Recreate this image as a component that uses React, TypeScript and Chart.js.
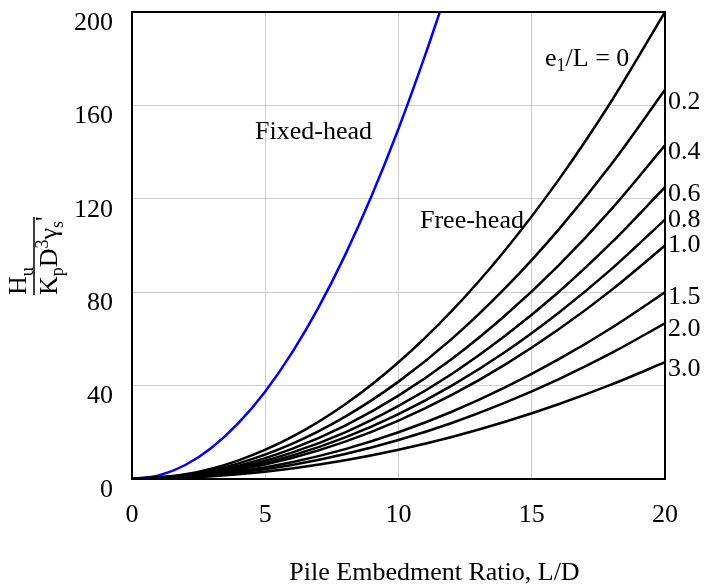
import React, { useEffect, useRef } from "react";
import { Chart, registerables } from "chart.js";

Chart.register(...registerables);

// ---- Data ----
const xFree = [0, 2, 4, 6, 8, 10, 12, 14, 16, 18, 20];
const freeE0 = [0, 2, 8, 18, 32, 50, 72, 98, 128, 162, 200];
const freeE02 = [0, 1.7, 6.7, 15, 26.7, 41.7, 60, 81.7, 106.7, 135, 166.7];
const freeE04 = [0, 1.4, 5.7, 12.9, 22.9, 35.7, 51.4, 70, 91.4, 115.7, 142.9];
const freeE06 = [0, 1.3, 5, 11.3, 20, 31.3, 45, 61.3, 80, 101.3, 125];
const freeE08 = [0, 1.1, 4.4, 10, 17.8, 27.8, 40, 54.4, 71.1, 90, 111.1];
const freeE10 = [0, 1, 4, 9, 16, 25, 36, 49, 64, 81, 100];
const freeE15 = [0, 0.8, 3.2, 7.2, 12.8, 20, 28.8, 39.2, 51.2, 64.8, 80];
const freeE20 = [0, 0.7, 2.7, 6, 10.7, 16.7, 24, 32.7, 42.7, 54, 66.7];
const freeE30 = [0, 0.5, 2, 4.5, 8, 12.5, 18, 24.5, 32, 40.5, 50];
const freeSeries = [freeE0, freeE02, freeE04, freeE06, freeE08, freeE10, freeE15, freeE20, freeE30];
const freeLabels = ["0", "0.2", "0.4", "0.6", "0.8", "1.0", "1.5", "2.0", "3.0"];

const xFixed = [0, 1, 2, 3, 4, 5, 6, 7, 8, 9, 10, 11, 11.55];
const fixedHead = [0, 1.5, 6, 13.5, 24, 37.5, 54, 73.5, 96, 121.5, 150, 181.5, 200];

const xTicks = [0, 5, 10, 15, 20];
const yTicks = [0, 40, 80, 120, 160, 200];

const xTitle = "Pile Embedment Ratio, L/D";
const fixedLabel = "Fixed-head";
const freeLabel = "Free-head";

const SERIF = "'Liberation Serif', 'Times New Roman', serif";

const textPlugin = {
  id: "textPlugin",
  afterDraw(chart: any) {
    const { ctx, chartArea, scales } = chart;
    const xs = scales.x;
    const ys = scales.y;
    ctx.save();
    // frame
    ctx.strokeStyle = "#000";
    ctx.lineWidth = 2;
    ctx.strokeRect(chartArea.left, chartArea.top, chartArea.right - chartArea.left, chartArea.bottom - chartArea.top);

    ctx.fillStyle = "#000";
    ctx.textBaseline = "alphabetic";
    ctx.textAlign = "left";
    const big = `26px ${SERIF}`;
    const small = `18px ${SERIF}`;

    // in-plot labels
    ctx.font = big;
    ctx.fillText(fixedLabel, 255, 139);
    ctx.fillText(freeLabel, 420, 228);

    // e1/L = 0
    let x = 545;
    const b = 66;
    ctx.font = big;
    ctx.fillText("e", x, b);
    x += ctx.measureText("e").width;
    ctx.font = small;
    ctx.fillText("1", x, b + 5);
    x += ctx.measureText("1").width;
    ctx.font = big;
    ctx.fillText("/L = " + freeLabels[0], x, b);

    // right-side labels
    const offs = [0, 12, 7, 7, 1, 0, 5, 6, 7];
    ctx.textBaseline = "middle";
    ctx.font = big;
    for (let i = 1; i < freeSeries.length; i++) {
      const s = freeSeries[i];
      const py = ys.getPixelForValue(s[s.length - 1]) + offs[i];
      ctx.fillText(freeLabels[i], xs.getPixelForValue(20) + 3, py);
    }

    // x title
    ctx.textAlign = "center";
    ctx.fillText(xTitle, 434.5, 573);

    // y title (rotated fraction)
    ctx.translate(34, 295);
    ctx.rotate(-Math.PI / 2);
    ctx.textAlign = "left";
    ctx.textBaseline = "alphabetic";
    ctx.font = big;
    ctx.fillText("H", 0, -8);
    let w = ctx.measureText("H").width;
    ctx.font = small;
    ctx.fillText("u", w, -1);
    ctx.fillRect(0, -0.75, 78, 1.5);
    const base = 23;
    const parts: [string, string, number][] = [
      ["K", big, base],
      ["p", small, base + 6],
      ["D", big, base],
      ["3", small, base - 9],
      ["\u03b3", big, base],
      ["s", small, base + 6],
      ["'", big, base - 4],
    ];
    let px = 0;
    for (const [t, f, by] of parts) {
      ctx.font = f;
      ctx.fillText(t, px, by);
      px += ctx.measureText(t).width;
    }
    ctx.restore();
  },
};

export default function App() {
  const ref = useRef<HTMLCanvasElement | null>(null);
  useEffect(() => {
    if (!ref.current) return;
    const freeDatasets = freeSeries.map((s, i) => ({
      label: "e1/L = " + freeLabels[i],
      data: xFree.map((xv, j) => ({ x: xv, y: s[j] })),
      borderColor: "#000000",
      borderWidth: 2.5,
      pointRadius: 0,
      cubicInterpolationMode: "monotone" as const,
      fill: false,
    }));
    const chart = new Chart(ref.current, {
      type: "line",
      data: {
        datasets: [
          ...freeDatasets,
          {
            label: fixedLabel,
            data: xFixed.map((xv, j) => ({ x: xv, y: fixedHead[j] })),
            borderColor: "#0000ff",
            borderWidth: 2.5,
            pointRadius: 0,
            cubicInterpolationMode: "monotone" as const,
            fill: false,
          },
        ],
      },
      options: {
        animation: false,
        responsive: false,
        devicePixelRatio: 1,
        layout: { padding: { left: 0, right: 39, top: 12, bottom: 0 }, autoPadding: false } as any,
        plugins: { legend: { display: false }, tooltip: { enabled: false } },
        scales: {
          x: {
            type: "linear",
            min: 0,
            max: 20,
            afterBuildTicks: (s: any) => {
              s.ticks = xTicks.map((v) => ({ value: v }));
            },
            afterFit: (s: any) => {
              s.height = 108;
              s.paddingLeft = 0;
              s.paddingRight = 0;
            },
            grid: { color: "#cccccc", lineWidth: 1, drawTicks: false },
            border: { display: false },
            ticks: { color: "#000", font: { family: SERIF, size: 26 }, padding: 21, maxRotation: 0 },
          },
          y: {
            type: "linear",
            min: 0,
            max: 200,
            afterBuildTicks: (s: any) => {
              s.ticks = yTicks.map((v) => ({ value: v }));
            },
            afterFit: (s: any) => {
              s.width = 132;
              s.paddingTop = 0;
              s.paddingBottom = 0;
            },
            grid: { color: "#cccccc", lineWidth: 1, drawTicks: false },
            border: { display: false },
            ticks: { color: "#000", font: { family: SERIF, size: 26 }, padding: 19, labelOffset: 11 },
          },
        },
      },
      plugins: [textPlugin],
    });
    return () => chart.destroy();
  }, []);
  return (
    <div style={{ position: "fixed", left: 0, top: 0, width: 704, height: 587, background: "#fff" }}>
      <canvas ref={ref} width={704} height={587} style={{ width: 704, height: 587 }} />
    </div>
  );
}
